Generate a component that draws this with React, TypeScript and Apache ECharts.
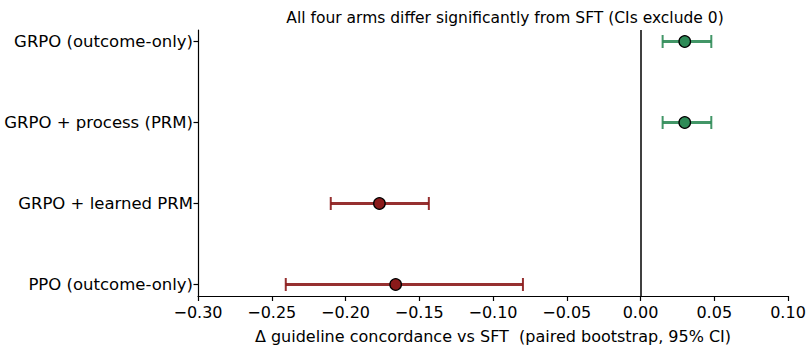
import React, { useEffect, useRef } from "react";
import * as echarts from "echarts";

const arms = ["GRPO (outcome-only)", "GRPO + process (PRM)", "GRPO + learned PRM", "PPO (outcome-only)"];
const deltas = [0.03, 0.03, -0.177, -0.166];
const ciLow = [0.015, 0.015, -0.21, -0.2405];
const ciHigh = [0.048, 0.048, -0.1435, -0.0797];
const armColors = ["#2e8b57", "#2e8b57", "#8b1a1a", "#8b1a1a"];

const FONT = "DejaVu Sans";

export default function App() {
  const ref = useRef<HTMLDivElement>(null);
  useEffect(() => {
    const chart = echarts.init(ref.current!, null, { renderer: "svg" });
    const errData = arms.map((_, i) => [ciLow[i], ciHigh[i], i]);
    const ptData = arms.map((_, i) => ({
      value: [deltas[i], i],
      itemStyle: { color: armColors[i], borderColor: "#000", borderWidth: 1.3, opacity: 1 },
    }));
    chart.setOption({
      animation: false,
      title: {
        text: "All four arms differ significantly from SFT (CIs exclude 0)",
        left: 500,
        textAlign: "center",
        top: 5,
        textStyle: { fontFamily: FONT, fontSize: 15.5, fontWeight: "normal", color: "#000" },
      },
      grid: { left: 198, right: 18, top: 30, bottom: 49, outerBoundsMode: "none", containLabel: false },
      xAxis: {
        type: "value",
        min: -0.3,
        max: 0.1,
        interval: 0.05,
        name: "Δ guideline concordance vs SFT  (paired bootstrap, 95% CI)",
        nameLocation: "middle",
        nameGap: 33,
        nameTextStyle: { fontFamily: FONT, fontSize: 16, lineHeight: 14, color: "#000" },
        axisLine: { show: true, onZero: false, lineStyle: { color: "#000", width: 1.2 } },
        axisTick: { show: true, inside: false, length: 5, lineStyle: { color: "#000", width: 1.2 } },
        axisLabel: {
          fontFamily: FONT,
          fontSize: 16,
          color: "#000",
          margin: 8,
          formatter: (v: number) => {
            const s = Math.abs(v).toFixed(2);
            return v < -1e-9 ? "\u2212" + s : s;
          },
        },
        splitLine: { show: false },
      },
      yAxis: {
        type: "value",
        inverse: true,
        min: -0.142,
        max: 3.142,
        axisLine: { show: true, onZero: false, lineStyle: { color: "#000", width: 1.2 } },
        axisTick: { show: true, length: 4.5, customValues: [0, 1, 2, 3], lineStyle: { color: "#000", width: 1.2 } },
        axisLabel: {
          customValues: [0, 1, 2, 3],
          fontFamily: FONT,
          fontSize: 16.5,
          color: "#000",
          margin: 5,
          formatter: (v: number) => arms[Math.round(v)] ?? "",
        },
        splitLine: { show: false },
      },
      series: [
        {
          type: "line",
          data: [],
          markLine: {
            silent: true,
            symbol: "none",
            label: { show: false },
            lineStyle: { color: "#000", width: 1.5, type: "solid" },
            data: [{ xAxis: 0 }],
          },
        },
        {
          type: "custom",
          data: errData,
          renderItem: (params: any, api: any) => {
            const i = api.value(2);
            const lo = api.coord([api.value(0), i]);
            const hi = api.coord([api.value(1), i]);
            const c = armColors[i];
            const cap = 6.5;
            const style = { stroke: c, lineWidth: 3, opacity: 0.9 };
            return {
              type: "group",
              children: [
                { type: "line", shape: { x1: lo[0], y1: lo[1], x2: hi[0], y2: hi[1] }, style },
                { type: "line", shape: { x1: lo[0], y1: lo[1] - cap, x2: lo[0], y2: lo[1] + cap }, style: { ...style, lineWidth: 2 } },
                { type: "line", shape: { x1: hi[0], y1: hi[1] - cap, x2: hi[0], y2: hi[1] + cap }, style: { ...style, lineWidth: 2 } },
              ],
            };
          },
          z: 3,
        },
        {
          type: "scatter",
          symbol: "circle",
          symbolSize: 11.5,
          data: ptData,
          z: 5,
        },
      ],
    });
    return () => chart.dispose();
  }, []);
  return (
    <div
      ref={ref}
      style={{ position: "absolute", left: 0, top: 0, width: 806, height: 345 }}
    />
  );
}
